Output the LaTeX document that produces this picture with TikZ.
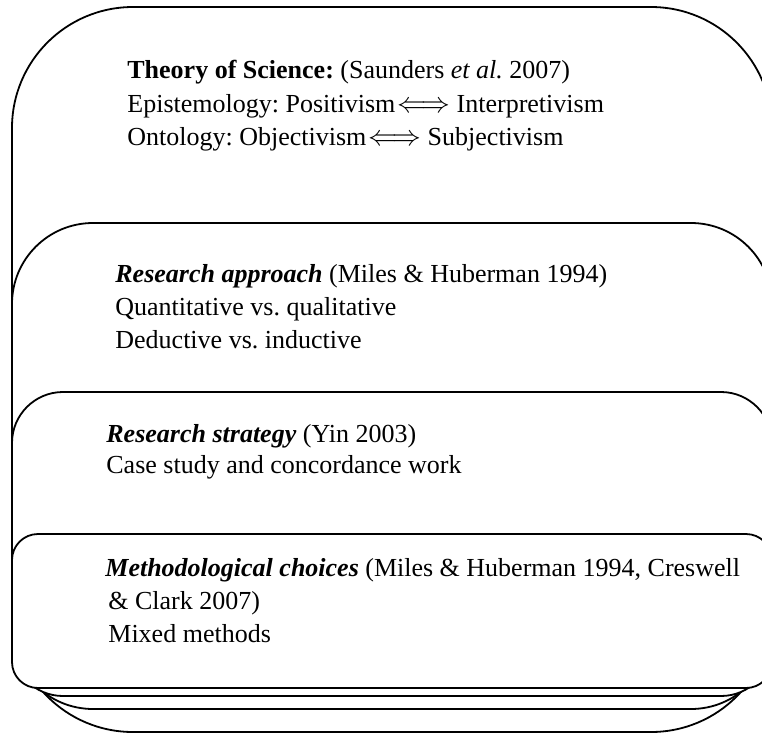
\documentclass[tikz,border=0pt]{standalone}
\usepackage{fontspec}
\setmainfont{Liberation Serif}
\usetikzlibrary{positioning}
\frenchspacing
\newcommand{\bothways}{\hspace{1pt}\scalebox{1.2}{$\Longleftrightarrow$}}

\begin{document}
\begin{tikzpicture}[x=0.5pt,y=-0.5pt,
  every node/.style={font=\fontsize{13}{16}\selectfont,inner sep=0pt,anchor=base west},
  layer/.style={draw=black,fill=white,line width=0.9pt}]
  \useasboundingbox (0,0) rectangle (762,735);
  \clip (0,0) rectangle (762,735);
  % nested layers, outer first
  \draw[layer,rounded corners=60.5pt] (12,7) rectangle (772,732);
  \draw[layer,rounded corners=40.5pt] (12,223) rectangle (772,709);
  \draw[layer,rounded corners=25.5pt] (12,392) rectangle (772,696);
  \draw[layer,rounded corners=13pt] (12,534) rectangle (772,688);

  \node (theory) at (127,78) {\textbf{Theory of Science:} (Saunders \textit{et al.} 2007)};
  \node (episteme) at (127,112) {Epistemology: Positivism\bothways\ Interpretivism};
  \node (ontology) at (127,145) {Ontology: Objectivism\bothways\ Subjectivism};

  \node (approach) at (115,282) {\textbf{\textit{Research approach}} (Miles \& Huberman 1994)};
  \node (quant) at (115,315) {Quantitative vs. qualitative};
  \node (deduct) at (115,348) {Deductive vs. inductive};

  \node (strategy) at (106,442) {\textbf{\textit{Research strategy}} (Yin 2003)};
  \node (case) at (106,473) {Case study and concordance work};

  \node (choices) at (105,576) {\textbf{\textit{Methodological choices}} (Miles \& Huberman 1994, Creswell};
  \node (clark) at (108,609) {\& Clark 2007)};
  \node (mixed) at (108,642) {Mixed methods};
\end{tikzpicture}
\end{document}
